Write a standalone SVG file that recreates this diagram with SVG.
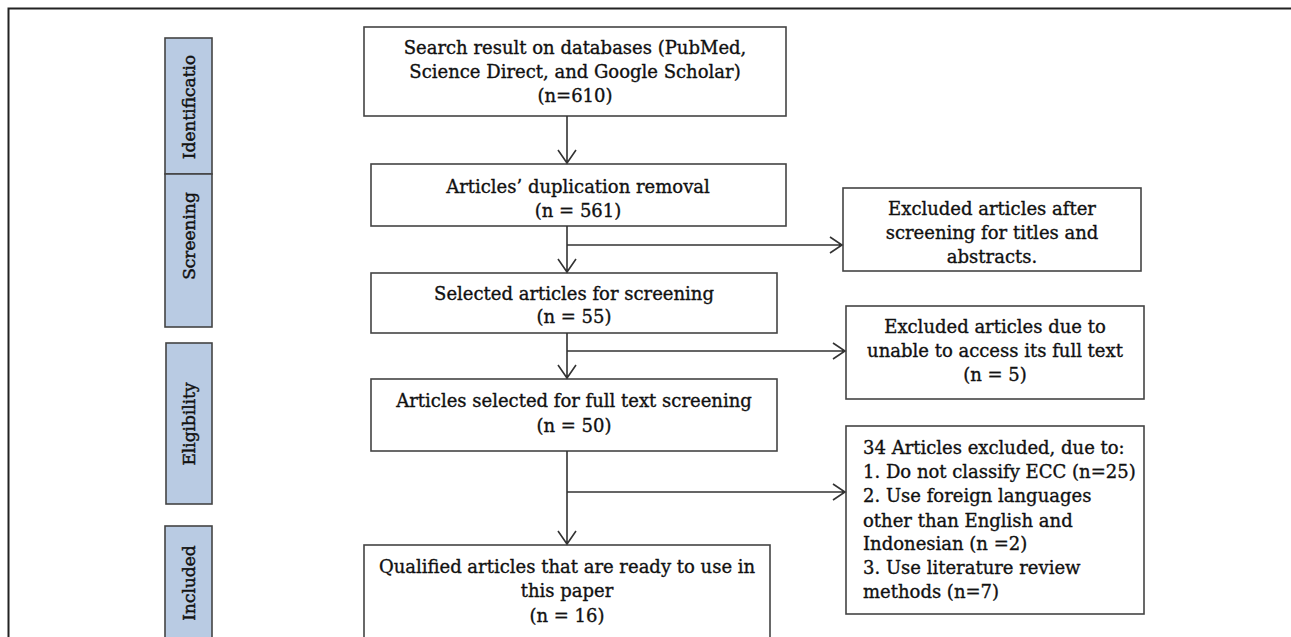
<svg xmlns="http://www.w3.org/2000/svg" width="1291" height="637" viewBox="0 0 1291 637">
<style>
.frame{fill:none;stroke:#222;stroke-width:2}
.box{fill:#fff;stroke:#444;stroke-width:1.6}
.phase{fill:#b9cbe3;stroke:#444;stroke-width:1.6}
.t,.tl,.pl{font-family:"DejaVu Serif","Liberation Serif",serif;font-size:18px;fill:#111;stroke:#111;stroke-width:0.35}
.t{text-anchor:middle}
.pl{font-size:17px;text-anchor:middle;stroke-width:0.45}
.c{fill:none;stroke:#333;stroke-width:1.6}
</style>
<rect width="1291" height="637" fill="#fff"/>
<path class="frame" d="M8.5,637 V8.5 H1291"/>

<g id="phase-identification"><rect class="phase" x="165" y="38" width="47" height="136"/><text class="pl" transform="translate(195,107) rotate(-90)">Identificatio</text></g>
<g id="phase-screening"><rect class="phase" x="165" y="174" width="47" height="153"/><text class="pl" transform="translate(195,236) rotate(-90)">Screening</text></g>
<g id="phase-eligibility"><rect class="phase" x="166" y="343" width="46" height="161"/><text class="pl" transform="translate(195,424) rotate(-90)">Eligibility</text></g>
<g id="phase-included"><rect class="phase" x="165" y="526" width="47" height="115"/><text class="pl" transform="translate(195,583) rotate(-90)">Included</text></g>

<g id="n-search"><rect class="box" x="364" y="27" width="422" height="89"/>
<text class="t" x="575" y="54">Search result on databases (PubMed,</text>
<text class="t" x="575" y="78">Science Direct, and Google Scholar)</text>
<text class="t" x="575" y="102">(n=610)</text></g>

<g id="n-dup"><rect class="box" x="371" y="164" width="415" height="62"/>
<text class="t" x="578" y="193">Articles’ duplication removal</text>
<text class="t" x="578" y="217">(n = 561)</text></g>

<g id="n-sel"><rect class="box" x="371" y="273" width="406" height="60"/>
<text class="t" x="574" y="300">Selected articles for screening</text>
<text class="t" x="574" y="323">(n = 55)</text></g>

<g id="n-full"><rect class="box" x="371" y="379" width="406" height="72"/>
<text class="t" x="574" y="407">Articles selected for full text screening</text>
<text class="t" x="574" y="432">(n = 50)</text></g>

<g id="n-qual"><rect class="box" x="364" y="545" width="406" height="100"/>
<text class="t" x="567" y="573">Qualified articles that are ready to use in</text>
<text class="t" x="567" y="597">this paper</text>
<text class="t" x="567" y="622">(n = 16)</text></g>

<g id="n-exc1"><rect class="box" x="843" y="188" width="298" height="83"/>
<text class="t" x="992" y="215">Excluded articles after</text>
<text class="t" x="992" y="239">screening for titles and</text>
<text class="t" x="992" y="263">abstracts.</text></g>

<g id="n-exc2"><rect class="box" x="846" y="306" width="298" height="93"/>
<text class="t" x="995" y="333">Excluded articles due to</text>
<text class="t" x="995" y="357">unable to access its full text</text>
<text class="t" x="995" y="381">(n = 5)</text></g>

<g id="n-exc3"><rect class="box" x="846" y="426" width="298" height="188"/>
<text class="tl" x="863" y="454">34 Articles excluded, due to:</text>
<text class="tl" x="863" y="478">1. Do not classify ECC (n=25)</text>
<text class="tl" x="863" y="502">2. Use foreign languages</text>
<text class="tl" x="863" y="527">other than English and</text>
<text class="tl" x="863" y="550">Indonesian (n =2)</text>
<text class="tl" x="863" y="574">3. Use literature review</text>
<text class="tl" x="863" y="598">methods (n=7)</text></g>

<g id="connectors">
<path class="c" d="M567,116 V163 M558,150 L567,163 L576,150"/>
<path class="c" d="M567,226 V272 M558,259 L567,272 L576,259"/>
<path class="c" d="M567,245 H842 M830,237 L842,245 L830,253"/>
<path class="c" d="M567,333 V378 M558,365 L567,378 L576,365"/>
<path class="c" d="M567,351 H845 M833,343 L845,351 L833,359"/>
<path class="c" d="M567,451 V544 M558,531 L567,544 L576,531"/>
<path class="c" d="M567,492 H845 M833,484 L845,492 L833,500"/>
</g>
</svg>
